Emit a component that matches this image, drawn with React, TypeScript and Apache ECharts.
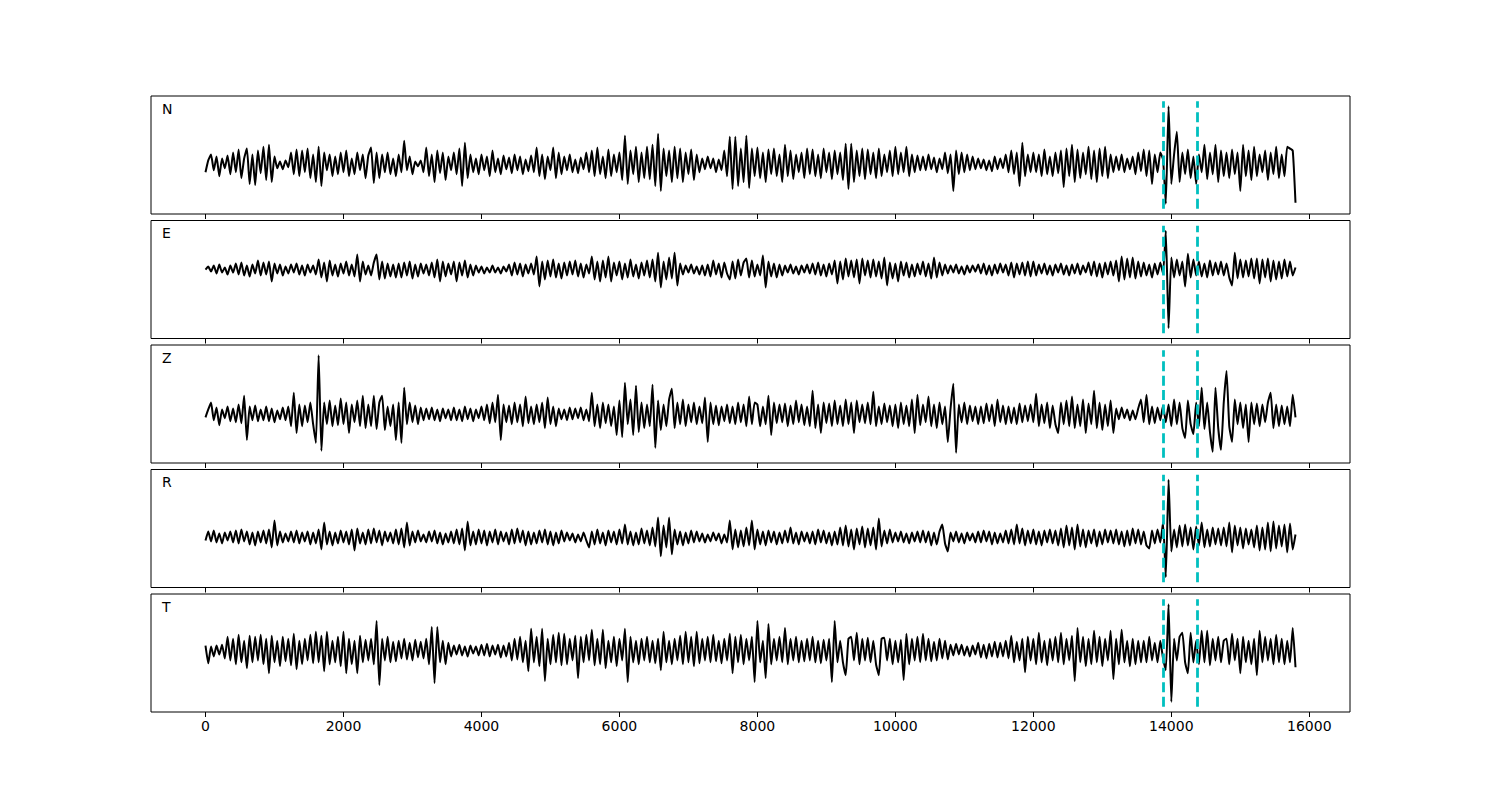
import React, { useEffect, useRef } from "react";
import * as echarts from "echarts";

// Sampling interval of every trace (x units per sample)
const SAMPLE_STEP = 40;
const X_MIN = -790;
const X_MAX = 16590;
const X_TICKS = [0, 2000, 4000, 6000, 8000, 10000, 12000, 14000, 16000];
const PICKS = [13880, 14380];
const LABELS = ["N", "E", "Z", "R", "T"];

const TRACE_N = [
  -8, 4, 10, -6, 8, -12, 6, -4, 9, -10,
  12, -8, 15, -14, 6, 16, -20, 10, -21, 14,
  -9, 18, -16, 20, -18, 8, -4, 3, -5, 4,
  -3, 12, -10, 15, -12, 14, -8, 16, -14, 10,
  -18, 18, -22, 12, -6, 10, -12, 8, -10, 12,
  -8, 14, -12, 6, -10, 12, -6, 10, -14, 9,
  17, -19, 12, -14, 10, -8, 12, -10, 6, -12,
  10, -8, 24, -6, 8, -10, 3, -2, 4, -8,
  17, -12, 10, -18, 14, -9, 12, -16, 8, -6,
  12, -10, 16, -22, 22, -14, 10, -8, 6, -10,
  10, -6, 8, -12, 14, -8, 6, -10, 9, -5,
  7, -9, 10, -6, 8, -10, 5, -7, 9, -8,
  17, -12, 10, -15, 8, -6, 17, -14, 12, -10,
  8, -6, 10, -8, 5, -9, 7, -5, 12, -8,
  14, -12, 17, -10, 8, -14, 15, -12, 10, -8,
  12, -16, 29, -20, 14, -10, 18, -18, 12, -14,
  18, -15, 20, -22, 31, -27, 16, -12, 14, -18,
  18, -14, 16, -18, 12, -10, 15, -16, 10, -8,
  6, -5, 8, -4, 6, -8, 5, -6, 14, -12,
  28, -25, 28, -22, 16, -18, 29, -24, 16, -12,
  17, -14, 12, -18, 15, -10, 16, -12, 10, -18,
  20, -12, 14, -15, 10, -8, 12, -14, 16, -10,
  15, -12, 10, -14, 16, -8, 12, -15, 14, -10,
  12, -16, 21, -25, 21, -18, 14, -12, 16, -15,
  15, -10, 12, -14, 16, -12, 10, -8, 14, -12,
  18, -10, 12, -8, 18, -12, 10, -8, 9, -6,
  8, -6, 10, -5, 7, -8, 6, -5, 12, -9,
  10, -27, 14, -10, 12, -8, 10, -6, 8, -5,
  6, -4, 5, -6, 4, -7, 8, -5, 6, -4,
  10, -8, 14, -10, 12, -22, 22, -12, 10, -8,
  12, -8, 10, -12, 15, -10, 8, -12, 12, -9,
  14, -23, 16, -12, 20, -18, 15, -14, 12, -10,
  18, -15, 14, -18, 16, -12, 18, -14, 10, -8,
  8, -6, 10, -8, 6, -5, 8, -10, 12, -7,
  15, -12, 14, -20, 10, -8, 12, 5, -40, 59,
  -20, 10, 33, -18, 12, -10, 15, -14, 8, -20,
  10, -8, 20, -15, 12, -10, 20, -18, 14, -12,
  12, -14, 15, -10, 12, -27, 20, -12, 14, -16,
  18, -12, 10, -8, 14, -16, 12, -10, 18, -14,
  10, -12, 18, 16, 14, -39,
];

const TRACE_E = [
  0, 3, -2, 4, -4, 5, -3, 2, -5, 4,
  -3, 6, -5, 7, -6, 4, -7, 5, -4, 9,
  -6, 7, -5, 8, -12, 6, -4, 5, -6, 3,
  -4, 5, -3, 6, -5, 4, -6, 5, -3, 4,
  -5, 10, -8, 7, -12, 9, -6, 5, -7, 6,
  -4, 8, -6, 5, -7, 15, -12, 8, -5, 4,
  -6, 7, 15, -10, 8, -9, 6, -7, 5, -8,
  6, -8, 7, -6, 8, -9, 5, -7, 6, -4,
  5, -6, 7, -8, 10, -12, 8, -7, 6, -5,
  8, -12, 7, -6, 9, -8, 5, -6, 4, -3,
  3, -4, 2, -3, 4, -3, 2, -4, 3, -2,
  5, -6, 7, -5, 6, -7, 5, -4, 6, -5,
  13, -17, 8, -10, 9, -7, 10, -8, 6, -9,
  7, -6, 8, -5, 9, -7, 6, -8, 5, -4,
  13, -10, 8, -12, 9, -8, 13, -12, 7, -6,
  8, -10, 6, -8, 10, -7, 5, -9, 7, -6,
  9, -8, 10, -12, 17, -18, 8, -10, 12, -9,
  17, -16, 6, -5, 4, -3, 5, -4, 3, -5,
  4, -6, 5, -7, 9, -5, 6, -8, 7, -4,
  -10, 8, -9, 10, -6, 7, 11, -8, 9, -7,
  5, -6, 14, -18, 8, -7, 6, -8, 5, -6,
  4, -3, 5, -4, 3, -5, 4, -3, 5, -4,
  6, -5, 7, -6, 5, -7, 6, -5, 9, -14,
  8, -10, 11, -7, 9, -8, 10, -14, 11, -6,
  9, -8, 10, -7, 8, -9, 12, -16, 7, -9,
  6, -12, 8, -6, 7, -8, 5, -7, 6, -5,
  8, -7, 6, -9, 12, -8, 7, -6, 5, -4,
  4, -3, 5, -4, 3, -5, 4, -3, 4, -2,
  5, -4, 6, -5, 4, -6, 5, -4, 6, -3,
  5, -6, 7, -8, 6, -5, 7, -6, 8, -7,
  8, -6, 5, -4, 6, -5, 4, -6, 5, -3,
  6, -5, 4, -6, 5, -4, 6, -5, 4, -3,
  7, -6, 8, -7, 6, -8, 7, -5, 8, -6,
  9, -12, 13, -10, 11, -8, 12, -9, 8, -7,
  7, -6, 5, -8, 6, -5, 7, -4, 39, -59,
  12, -8, 10, -6, 8, -17, 16, -8, 10, -6,
  8, -7, 6, -8, 9, -6, 7, -5, 8, -6,
  6, -8, -16, 17, -9, 10, -8, 9, -7, 11,
  -9, 11, -14, 10, -8, 11, -12, 9, -10, 8,
  -9, 10, -7, 8, -6, 2,
];

const TRACE_Z = [
  -3, 5, 12, -6, 7, -11, 5, -4, 8, -7,
  6, -8, 10, -9, 19, -26, 8, -6, 9, -7,
  5, -6, 8, -7, 6, -8, 4, -5, 7, -6,
  8, -12, 22, -19, 10, -12, 9, -8, 12, -10,
  -29, 60, -37, 12, -10, 14, -12, 9, -11, 16,
  -10, 12, -19, 10, -8, 14, -12, 19, -14, 10,
  -12, 19, -15, 12, 19, -16, 8, -12, 10, -26,
  12, -29, 27, -10, 12, -8, 9, -10, 7, -6,
  6, -5, 7, -6, 5, -7, 6, -4, 5, -6,
  7, -6, 5, -7, 8, -5, 6, -7, 5, -4,
  8, -6, 10, -9, 12, -8, 20, -26, 10, -8,
  9, -10, 12, -8, 10, -12, 18, -9, 8, -10,
  10, -8, 12, -14, 17, -10, 8, -12, 6, -5,
  5, -6, 7, -5, 6, -4, 7, -6, 5, -7,
  22, -12, 10, -14, 12, -9, 10, -12, 8, -21,
  14, -23, 32, -10, 15, -21, 29, -18, 12, -14,
  10, -12, 30, -34, 14, -16, 10, -12, 15, 26,
  -14, 12, -10, 15, -12, 10, -8, 12, -10, 8,
  -9, 17, -28, 12, -10, 9, -11, 8, -7, 10,
  -9, 8, -10, 12, -8, 10, -12, 18, -10, 12,
  10, -12, 8, -10, 19, -21, 12, -9, 10, -8,
  11, -12, 9, -10, 14, -8, 10, -11, 8, -12,
  24, -14, 10, -19, 12, -9, 11, -12, 14, -10,
  9, -12, 15, -10, 12, -19, 14, -8, 10, -9,
  12, -10, 23, -12, 8, -10, 11, -8, 9, -12,
  10, -14, 12, -10, 9, -12, 15, -19, 20, -11,
  10, -8, 18, -12, 10, -14, 12, -10, 8, -28,
  6, 31, -39, 10, -8, 12, -10, 9, -7, 8,
  -10, 8, -9, 11, -7, 10, -12, 15, -8, 9,
  -10, 8, -9, 7, -10, 11, -8, 9, -7, 10,
  -8, 21, -12, 10, -9, 12, -14, 9, -10, -19,
  12, -10, 14, -12, 18, -14, 10, -12, 15, -19,
  11, -10, 24, -14, 12, -16, 10, -12, 14, -19,
  6, -5, 7, -4, 5, -6, 4, -5, 6, 15,
  -8, 20, -10, 8, -9, 7, -6, 9, -8, 10,
  -12, 15, -10, 12, -14, -24, 14, -10, -20, 12,
  -12, 27, -15, 12, -18, -38, 27, -14, -36, 12,
  44, -12, -28, 15, -10, 12, -14, 10, -28, 12,
  -10, 11, -12, 10, -8, 12, 22, -14, 10, -12,
  9, -10, 8, -12, 20, -3,
];

const TRACE_R = [
  -3, 6, -4, 7, -5, 4, -6, 5, -3, 6,
  -5, 7, -6, 8, -4, 6, -7, 5, -8, 6,
  -5, 7, -6, 8, -10, 17, -8, 6, -5, 4,
  -4, 6, -5, 7, -6, 5, -4, 6, -7, 5,
  -6, 8, -12, 15, -7, 6, -8, 5, -6, 7,
  -5, 6, -7, 8, -13, 9, -6, 5, -7, 8,
  -6, 9, -5, 7, -8, 6, -4, 5, -6, 8,
  -7, 9, -10, 15, -8, 6, -5, 7, -4, 3,
  -5, 6, -4, 7, -6, 5, -7, 4, -5, 6,
  -6, 8, -7, 9, -13, 16, -8, 6, -7, 8,
  -6, 7, -8, 6, -5, 8, -7, 6, -4, 5,
  -7, 8, -6, 9, -5, 7, -8, 6, -7, 5,
  -6, 7, -5, 8, -7, 6, -8, 5, -6, 7,
  -4, 5, -3, 4, -5, 3, -4, 5, -3, -10,
  6, -7, 8, -6, 5, -8, 7, -5, 6, -7,
  8, -6, 13, -7, 6, -8, 5, -7, 9, -6,
  7, -8, 10, -9, 20, -19, 12, -10, 20, -17,
  8, -7, 6, -8, 5, -6, 7, -5, 6, -4,
  4, -5, 3, -4, 5, -3, 4, -6, 3, -5,
  17, -12, 8, -10, 7, -9, 10, -8, 17, -12,
  8, -7, 6, -8, 7, -5, 6, -7, 5, -6,
  7, -5, 10, -6, 5, -7, 6, -4, 5, -6,
  6, -7, 8, -5, 7, -6, 5, -8, 6, -7,
  10, -8, 12, -9, 8, -12, 9, -7, 11, -10,
  9, -8, 10, -12, 19, -9, 7, -6, 8, -5,
  5, -4, 6, -5, 4, -6, 5, -4, 6, -5,
  7, -5, 6, -8, 5, -7, 6, 13, -6, -14,
  5, -4, 6, -5, 4, -6, 5, -3, 4, -5,
  6, -5, 7, -4, 6, -7, 5, -6, 4, -5,
  7, -6, 8, -7, 13, -6, 9, -8, 7, -6,
  8, -7, 6, -8, 7, -5, 8, -6, 7, -8,
  9, -10, 12, -8, 10, -12, 13, -9, 8, -10,
  7, -6, 8, -9, 6, -7, 8, -5, 7, -6,
  8, -7, 6, -9, 7, -8, 9, -6, 8, -7,
  6, -8, -11, 7, -6, 8, -5, 15, -40, 58,
  -14, 8, -10, 12, -9, 13, -8, 10, -12, 11,
  -8, 15, -10, 8, -9, 10, -7, 9, -8, 10,
  -9, 15, -15, 12, -8, 10, -11, 9, -7, 8,
  -10, 12, -13, 10, -12, 15, -14, 16, -11, 12,
  -9, 13, -15, 14, -12, 3,
];

const TRACE_T = [
  5, -13, 4, -6, 5, -4, 6, -8, 14, -10,
  12, -14, 16, -12, 10, -18, 15, -12, 14, -10,
  16, -14, 12, -23, 15, -12, 10, -16, 14, -11,
  12, -15, 17, -19, 10, -14, 12, -10, 16, -13,
  19, -12, 15, -21, 19, -14, 10, -12, 14, -16,
  19, -23, 12, -14, 10, -23, 15, -12, 11, -10,
  12, -14, 30, -35, 12, -10, 14, -12, 9, -11,
  10, -8, 12, -9, 8, -10, 11, -7, 9, -8,
  12, -14, 24, -33, 24, -12, 10, -14, 8, -6,
  5, -4, 6, -5, 4, -6, 5, -3, 4, -5,
  6, -5, 7, -6, 5, -4, 6, -7, 5, -6,
  8, -10, 12, -9, 14, -12, 10, -21, 22, -12,
  14, -16, 22, -31, 12, -14, 16, -12, 18, -15,
  17, -14, 12, -10, 15, -28, 14, -12, 16, -10,
  21, -15, 12, -14, 21, -18, 10, -12, 14, -16,
  12, -10, 22, -32, 14, -12, 10, -14, 12, -10,
  14, -12, 10, -13, 12, -20, 19, -12, 10, -14,
  12, -10, 15, -14, 19, -12, 14, -16, 19, -13,
  12, -10, 14, -12, 16, -11, 10, -13, 12, -10,
  17, -23, 14, -12, 16, -14, 12, -10, 14, -32,
  30, -12, 10, -28, 27, -14, 12, -10, 14, -12,
  23, -14, 12, -10, 14, -12, 10, -11, 12, -10,
  14, -12, 10, -13, 11, -10, 12, -32, 30, -12,
  10, -12, -25, 12, 14, -10, 18, -14, 12, -10,
  13, -12, 10, -14, -25, 12, 13, -10, 12, -14,
  10, -12, 11, -30, 17, -14, 12, -10, 14, -12,
  17, -10, 12, -11, 9, -10, 12, -8, 10, -9,
  6, -5, 7, -4, 6, -5, 4, -6, 5, -4,
  8, -7, 6, -8, 7, -6, 9, -7, 8, -6,
  10, -8, 15, -12, 9, -10, 12, -22, 14, -10,
  12, -14, 18, -12, 10, -15, 12, -10, 14, -12,
  18, -14, 12, -10, 15, -31, 23, -12, 14, -16,
  12, -14, 20, -12, 14, -16, 12, -10, 20, -29,
  12, -14, 21, -12, 10, -16, 12, -14, 10, -12,
  10, -12, 14, -10, 8, -12, 10, -8, -20, 47,
  -52, 12, -10, 14, 18, -12, -23, 18, -12, 10,
  -14, 20, -12, 20, -15, 12, -10, 14, -12, 10,
  12, -14, 17, -10, 12, -23, 14, -12, 10, -14,
  12, -25, 20, -12, 14, -10, 12, -14, 16, -12,
  12, -14, 10, -12, 23, -17,
];

const TRACES = [TRACE_N, TRACE_E, TRACE_Z, TRACE_R, TRACE_T];

const GRID_LEFT = 151;
const GRID_WIDTH = 1199;
const GRID_TOP0 = 96;
const GRID_STEP = 124.5;
const GRID_HEIGHT = 118;
const FONT = "DejaVu Sans";

function buildOption() {
  const grids: any[] = [];
  const xAxes: any[] = [];
  const yAxes: any[] = [];
  const series: any[] = [];
  const graphics: any[] = [];

  TRACES.forEach((trace, k) => {
    const top = GRID_TOP0 + k * GRID_STEP;
    grids.push({
      left: GRID_LEFT,
      top,
      width: GRID_WIDTH,
      height: GRID_HEIGHT,
      show: true,
      borderColor: "#000",
      borderWidth: 1,
      backgroundColor: "transparent",
    });
    const mn = Math.min(...trace);
    const mx = Math.max(...trace);
    const r = mx - mn;
    const lo = mn - 0.05 * r;
    const hi = mx + 0.05 * r;
    const span = hi - lo;
    xAxes.push({
      type: "value",
      gridIndex: k,
      position: "bottom",
      min: X_MIN,
      max: X_MAX,
      splitLine: { show: false },
      axisLine: { show: false, onZero: false },
      axisTick: {
        show: true,
        inside: false,
        length: 5,
        customValues: X_TICKS,
        lineStyle: { color: "#000", width: 1 },
      },
      axisLabel: {
        show: k === TRACES.length - 1,
        customValues: X_TICKS,
        formatter: (v: number) => String(v),
        color: "#000",
        fontSize: 14,
        fontFamily: FONT,
        margin: 7,
      },
    });
    yAxes.push({
      type: "value",
      gridIndex: k,
      min: lo - 0.05 * span,
      max: hi + 0.05 * span,
      show: false,
      splitLine: { show: false },
    });
    series.push({
      type: "line",
      xAxisIndex: k,
      yAxisIndex: k,
      data: trace.map((v, i) => [i * SAMPLE_STEP, v]),
      showSymbol: false,
      symbol: "none",
      smooth: 0.15,
      lineStyle: { color: "#000", width: 2 },
      itemStyle: { color: "#000" },
      silent: true,
      markLine: {
        silent: true,
        symbol: ["none", "none"],
        label: { show: false },
        lineStyle: { color: "#00bfbf", width: 2.8, type: [10, 4.4], opacity: 1 },
        data: PICKS.map((p) => [
          { coord: [p, lo] },
          { coord: [p, hi] },
        ]),
      },
    });
    graphics.push({
      type: "text",
      x: 162,
      y: top + 12.5,
      style: {
        text: LABELS[k],
        fontSize: 14,
        fontFamily: FONT,
        fill: "#000",
        verticalAlign: "middle",
        align: "left",
      },
    });
  });

  return {
    animation: false,
    backgroundColor: "#fff",
    grid: grids,
    xAxis: xAxes,
    yAxis: yAxes,
    series,
    graphic: graphics,
  };
}

export default function App() {
  const ref = useRef<HTMLDivElement>(null);
  useEffect(() => {
    if (!ref.current) return;
    const chart = echarts.init(ref.current, undefined, { renderer: "svg" });
    chart.setOption(buildOption() as any);
    return () => chart.dispose();
  }, []);
  return (
    <div
      ref={ref}
      style={{ position: "absolute", left: 0, top: 0, width: 1500, height: 800 }}
    />
  );
}
